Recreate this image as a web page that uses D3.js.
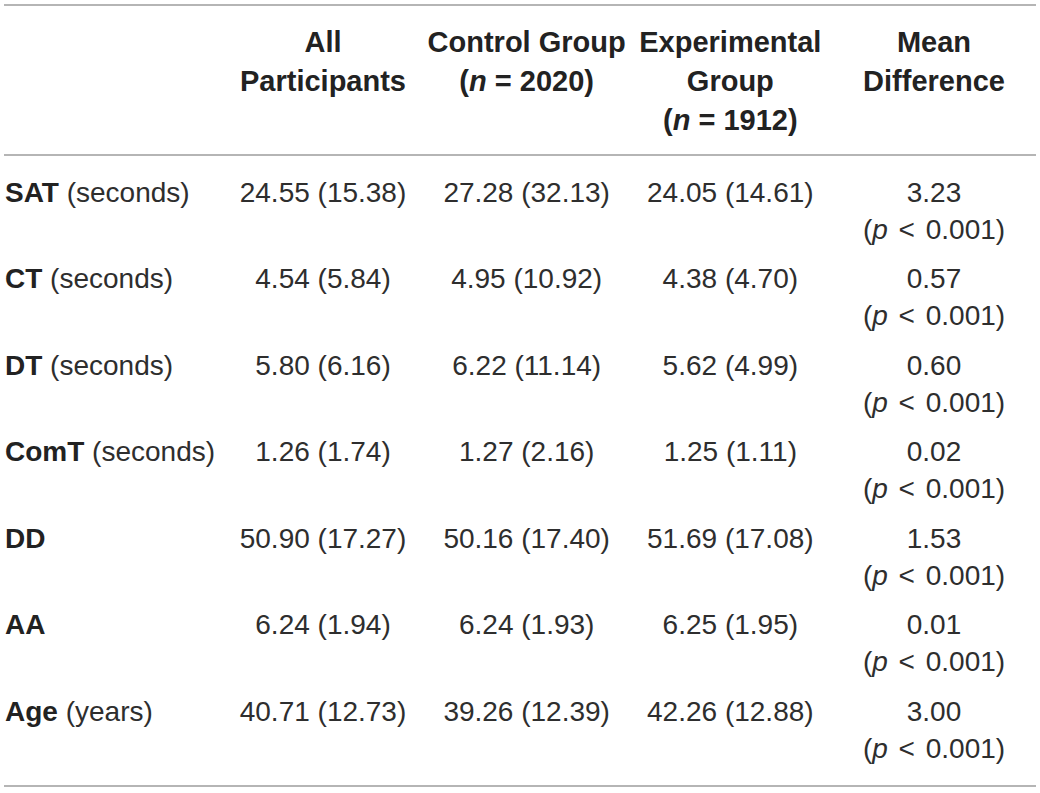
<!DOCTYPE html>
<html>
<head>
<meta charset="utf-8">
<script src="https://cdn.jsdelivr.net/npm/d3@7.9.0/dist/d3.min.js"></script>
<style>
  html, body { margin: 0; padding: 0; background: #fff; }
  svg { display: block; font-family: "Liberation Sans", Arial, Helvetica, sans-serif; }
  .cell { font-size: 28px; fill: #2e2e2e; }
  .head { font-size: 29px; font-weight: bold; fill: #222; }
  .pval { word-spacing: 3px; }
  .rule { stroke: #9c9c9c; stroke-width: 1.6; }
</style>
</head>
<body>
<svg id="tbl" width="1040" height="793"></svg>
<script>
// table content
const variables = ['SAT', 'CT', 'DT', 'ComT', 'DD', 'AA', 'Age'];
const units = ['(seconds)', '(seconds)', '(seconds)', '(seconds)', '', '', '(years)'];

const allMean = [24.55, 4.54, 5.80, 1.26, 50.90, 6.24, 40.71];
const allSD = [15.38, 5.84, 6.16, 1.74, 17.27, 1.94, 12.73];
const controlMean = [27.28, 4.95, 6.22, 1.27, 50.16, 6.24, 39.26];
const controlSD = [32.13, 10.92, 11.14, 2.16, 17.40, 1.93, 12.39];
const expMean = [24.05, 4.38, 5.62, 1.25, 51.69, 6.25, 42.26];
const expSD = [14.61, 4.70, 4.99, 1.11, 17.08, 1.95, 12.88];
const meanDiff = [3.23, 0.57, 0.60, 0.02, 1.53, 0.01, 3.00];
const pValue = ['0.001', '0.001', '0.001', '0.001', '0.001', '0.001', '0.001'];

const columns = ['all', 'control', 'exp', 'diff'];
const headers = [
  [{ t: 'All' }, { t: 'Participants' }],
  [{ t: 'Control Group' }, { t: '(', n: 'n', rest: ' = 2020)' }],
  [{ t: 'Experimental' }, { t: 'Group' }, { t: '(', n: 'n', rest: ' = 1912)' }],
  [{ t: 'Mean' }, { t: 'Difference' }]
];

const svg = d3.select('#tbl');
const fmt = d3.format('.2f');

const x = d3.scalePoint().domain(columns).range([323, 934]);
const y = d3.scalePoint().domain(variables).range([192, 711]);
const headLine = 39;
const headTop = 42;
const subLine = 37;

// rules
[5, 155, 786].forEach(yy => {
  svg.append('line').attr('class', 'rule')
    .attr('x1', 4).attr('x2', 1036).attr('y1', yy).attr('y2', yy);
});

// header
columns.forEach((c, ci) => {
  headers[ci].forEach((h, li) => {
    const t = svg.append('text').attr('class', 'head')
      .attr('x', x(c)).attr('y', headTop + li * headLine)
      .attr('dy', '0.35em').attr('text-anchor', 'middle');
    t.append('tspan').text(h.t);
    if (h.n) {
      t.append('tspan').attr('font-style', 'italic').text(h.n);
      t.append('tspan').text(h.rest);
    }
  });
});

// one group per variable
const rows = svg.selectAll('g.row').data(variables).join('g').attr('class', 'row');

rows.append('text').attr('class', 'cell')
  .attr('x', 5).attr('y', d => y(d)).attr('dy', '0.35em')
  .each(function(d, i) {
    const t = d3.select(this);
    t.append('tspan').attr('font-weight', 'bold').attr('fill', '#222').text(d);
    if (units[i]) t.append('tspan').text(' ' + units[i]);
  });

const groupCols = [
  ['all', allMean, allSD],
  ['control', controlMean, controlSD],
  ['exp', expMean, expSD]
];

groupCols.forEach(([c, m, s]) => {
  rows.append('text').attr('class', 'cell')
    .attr('x', x(c)).attr('y', d => y(d)).attr('dy', '0.35em')
    .attr('text-anchor', 'middle')
    .text((d, i) => `${fmt(m[i])} (${fmt(s[i])})`);
});

rows.append('text').attr('class', 'cell')
  .attr('x', x('diff')).attr('y', d => y(d)).attr('dy', '0.35em')
  .attr('text-anchor', 'middle')
  .text((d, i) => fmt(meanDiff[i]));

rows.append('text').attr('class', 'cell pval')
  .attr('x', x('diff')).attr('y', d => y(d) + subLine).attr('dy', '0.35em')
  .attr('text-anchor', 'middle')
  .each(function(d, i) {
    const t = d3.select(this);
    t.append('tspan').text('(');
    t.append('tspan').attr('font-style', 'italic').text('p');
    t.append('tspan').text(' < ' + pValue[i] + ')');
  });
</script>
</body>
</html>
